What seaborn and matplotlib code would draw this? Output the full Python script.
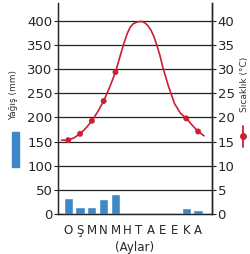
import matplotlib
matplotlib.use("Agg")
import matplotlib.pyplot as plt
import seaborn as sns
import pandas as pd
from matplotlib.patches import Rectangle
from matplotlib.lines import Line2D

# month letters (Turkish initials) and precipitation (mm)
months = ['O', 'Ş', 'M', 'N', 'M', 'H', 'T', 'A', 'E', 'E', 'K', 'A']
month_idx = list(range(12))
rain = [33, 14, 14, 31, 41, 0, 0, 0, 0, 0, 12, 8]

# temperature curve (month position, °C)
curve_x = [-0.56, 0, 0.5, 1, 1.5, 2, 2.5, 3, 3.5, 4, 4.5, 4.75, 5, 5.25, 5.5, 5.75, 6,
           6.2, 6.5, 6.75, 7, 7.25, 7.5, 7.75, 8, 8.5, 9, 9.5, 10, 10.5, 11, 11.5]
curve_t = [15.3, 15.3, 15.8, 16.6, 17.8, 19.3, 21.2, 23.4, 26.2, 29.4, 33.6, 35.6, 37.4,
           38.7, 39.4, 39.7, 39.85, 39.9, 39.6, 39.0, 38.1, 36.8, 35.0, 33.0, 30.5, 26.4,
           22.9, 20.9, 19.8, 18.4, 17.1, 16.2]
# marked measurements
mark_x = [0, 1, 2, 3, 4, 10, 11]
mark_t = [15.3, 16.6, 19.3, 23.4, 29.4, 19.8, 17.1]

bars = pd.DataFrame({'ay': month_idx, 'yagis': rain})
curve = pd.DataFrame({'x': curve_x, 't': curve_t})
marks = pd.DataFrame({'x': mark_x, 't': mark_t})

sns.set_style("white")
plt.rcParams['font.family'] = ['DejaVu Sans']

fig = plt.figure(figsize=(2.5, 2.54), dpi=100)
ax = fig.add_axes([0.232, 0.1575, 0.616, 0.8305])

bar_color = '#3f88c8'
line_color = '#cc1f33'

# horizontal grid lines
for v in range(0, 401, 50):
    ax.axhline(v, color='#222222', lw=0.9, zorder=0)

sns.barplot(data=bars[bars['yagis'] > 0], x='ay', y='yagis', native_scale=True,
            color=bar_color, saturation=1, width=0.78, ax=ax, zorder=2)

ax.set_xlim(-0.87, 12.18)
ax.set_ylim(0, 437)
ax.set_yticks(range(0, 401, 50))
ax.set_xticks(month_idx)
ax.set_xticklabels(months, fontsize=8.5)
ax.set_xlabel('(Aylar)', fontsize=8.5, labelpad=3)
ax.set_ylabel('')
ax.tick_params(axis='y', labelsize=9.5, length=3, width=0.8, pad=1, direction='out', left=True)
ax.tick_params(axis='x', length=0, pad=7)
ax.spines['top'].set_visible(False)
for s in ['left', 'bottom', 'right']:
    ax.spines[s].set_color('#222222')
    ax.spines[s].set_linewidth(1.0)

ax2 = ax.twinx()
sns.lineplot(data=curve, x='x', y='t', color=line_color, lw=1.2, ax=ax2)
sns.scatterplot(data=marks, x='x', y='t', color=line_color, s=18, edgecolor='none', ax=ax2, zorder=4)
ax2.set_ylim(0, 43.7)
ax2.set_yticks(range(0, 41, 5))
ax2.set_ylabel('')
ax2.set_xlabel('')
ax2.tick_params(axis='y', labelsize=9.5, length=3, width=0.8, pad=1, direction='out', right=True)
ax2.spines['top'].set_visible(False)
ax2.spines['right'].set_color('#222222')
ax2.spines['right'].set_linewidth(1.0)
ax.set_xlim(-0.87, 12.18)

# side legends
fig.text(14 / 250, 1 - 95 / 254, 'Yağış (mm)', rotation=90, fontsize=6.5,
         ha='center', va='center', color='#333333')
fig.patches.append(Rectangle((12 / 250, 1 - 167 / 254), 7 / 250, 35 / 254,
                             transform=fig.transFigure, color=bar_color, figure=fig))
fig.text(244 / 250, 1 - 84 / 254, 'Sıcaklık (°C)', rotation=90, fontsize=6.5,
         ha='center', va='center', color='#333333')
fig.lines.append(Line2D([243 / 250, 243 / 250], [1 - 126 / 254, 1 - 147 / 254],
                        transform=fig.transFigure, color=line_color, lw=1.3))
fig.lines.append(Line2D([243 / 250], [1 - 136 / 254], transform=fig.transFigure,
                        color=line_color, marker='o', markersize=4))

fig.savefig('out.png', dpi=100)
